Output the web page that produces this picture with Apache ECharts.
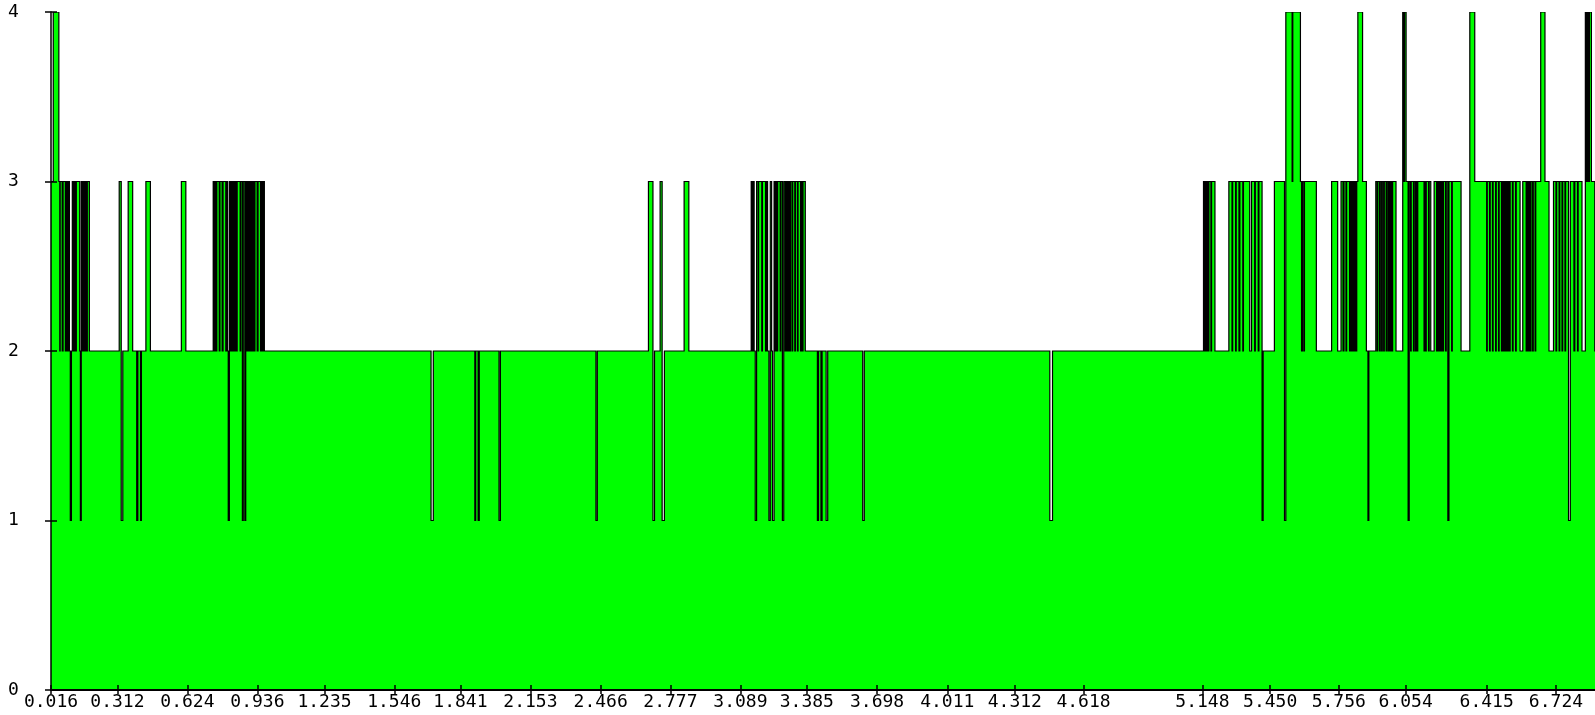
<!DOCTYPE html>
<html>
<head>
<meta charset="utf-8">
<script src="https://cdn.jsdelivr.net/npm/echarts/dist/echarts.min.js"></script>
<style>
  html, body { margin: 0; padding: 0; background: #fff; }
  #chart { width: 1595px; height: 715px; }
</style>
</head>
<body>
<div id="chart"></div>
<script>
// step positions (x) and the value held from there to the next position
var stepX = [
  0.016, 0.026, 0.051, 0.055, 0.057, 0.066, 0.070, 0.080, 0.084, 0.089,
  0.093, 0.098, 0.102, 0.107, 0.111, 0.115, 0.120, 0.124, 0.129, 0.144,
  0.147, 0.151, 0.156, 0.160, 0.164, 0.169, 0.173, 0.178, 0.187, 0.320,
  0.329, 0.336, 0.360, 0.380, 0.398, 0.403, 0.415, 0.419, 0.439, 0.459,
  0.597, 0.617, 0.739, 0.744, 0.748, 0.753, 0.755, 0.766, 0.769, 0.779,
  0.783, 0.795, 0.798, 0.803, 0.806, 0.811, 0.815, 0.820, 0.824, 0.828,
  0.833, 0.837, 0.842, 0.846, 0.859, 0.862, 0.869, 0.873, 0.880, 0.884,
  0.889, 0.893, 0.898, 0.902, 0.906, 0.911, 0.915, 0.919, 0.922, 0.925,
  0.935, 0.939, 0.950, 0.953, 0.958, 0.962, 0.967, 1.710, 1.720, 1.905,
  1.909, 1.920, 1.925, 2.013, 2.019, 2.445, 2.451, 2.679, 2.699, 2.706,
  2.731, 2.740, 2.750, 2.838, 2.859, 3.137, 3.141, 3.146, 3.150, 3.155,
  3.161, 3.168, 3.170, 3.184, 3.187, 3.201, 3.205, 3.210, 3.216, 3.222,
  3.228, 3.232, 3.239, 3.244, 3.248, 3.252, 3.255, 3.266, 3.269, 3.276,
  3.282, 3.288, 3.292, 3.296, 3.299, 3.303, 3.306, 3.310, 3.313, 3.320,
  3.322, 3.331, 3.334, 3.343, 3.346, 3.357, 3.361, 3.364, 3.368, 3.378,
  3.432, 3.437, 3.448, 3.453, 3.471, 3.478, 3.634, 3.641, 4.468, 4.480,
  5.153, 5.158, 5.161, 5.166, 5.169, 5.173, 5.177, 5.186, 5.189, 5.204,
  5.266, 5.280, 5.283, 5.296, 5.299, 5.311, 5.315, 5.328, 5.331, 5.359,
  5.367, 5.381, 5.384, 5.397, 5.400, 5.414, 5.419, 5.469, 5.514, 5.520,
  5.548, 5.551, 5.585, 5.590, 5.594, 5.600, 5.603, 5.656, 5.724, 5.751,
  5.766, 5.775, 5.779, 5.788, 5.791, 5.804, 5.807, 5.811, 5.814, 5.818,
  5.821, 5.825, 5.828, 5.832, 5.836, 5.841, 5.862, 5.879, 5.886, 5.890,
  5.921, 5.927, 5.930, 5.938, 5.941, 5.947, 5.950, 5.956, 5.959, 5.967,
  5.970, 5.976, 5.979, 5.984, 5.988, 5.993, 5.996, 6.011, 6.041, 6.046,
  6.049, 6.056, 6.065, 6.070, 6.076, 6.079, 6.089, 6.092, 6.098, 6.101,
  6.105, 6.108, 6.136, 6.139, 6.143, 6.146, 6.156, 6.159, 6.166, 6.181,
  6.192, 6.195, 6.198, 6.202, 6.205, 6.209, 6.213, 6.216, 6.220, 6.223,
  6.232, 6.235, 6.242, 6.247, 6.259, 6.262, 6.301, 6.340, 6.362, 6.415,
  6.418, 6.428, 6.431, 6.441, 6.444, 6.455, 6.458, 6.468, 6.471, 6.481,
  6.484, 6.488, 6.492, 6.495, 6.499, 6.502, 6.506, 6.509, 6.513, 6.517,
  6.520, 6.530, 6.533, 6.544, 6.547, 6.564, 6.576, 6.591, 6.594, 6.599,
  6.603, 6.608, 6.612, 6.619, 6.623, 6.631, 6.634, 6.656, 6.675, 6.693,
  6.713, 6.724, 6.727, 6.738, 6.741, 6.751, 6.754, 6.764, 6.767, 6.780,
  6.788, 6.804, 6.808, 6.820, 6.823, 6.840, 6.855, 6.860, 6.864, 6.869,
  6.873, 6.882, 6.897, 6.898
];
var stepY = [
  3, 4, 3, 2, 3, 2, 3, 2, 3, 2,
  3, 2, 1, 2, 3, 2, 3, 2, 3, 2,
  1, 3, 2, 3, 2, 3, 2, 3, 2, 3,
  1, 2, 3, 2, 1, 2, 1, 2, 3, 2,
  3, 2, 3, 2, 3, 2, 3, 2, 3, 2,
  3, 2, 3, 2, 1, 3, 2, 3, 2, 3,
  2, 3, 2, 3, 2, 3, 1, 3, 1, 3,
  2, 3, 2, 3, 2, 3, 2, 3, 2, 3,
  2, 3, 2, 3, 2, 3, 2, 1, 2, 1,
  2, 1, 2, 1, 2, 1, 2, 3, 1, 2,
  3, 1, 2, 3, 2, 3, 2, 3, 2, 1,
  3, 2, 3, 2, 3, 2, 3, 2, 1, 3,
  2, 1, 3, 2, 3, 2, 3, 2, 3, 1,
  3, 2, 3, 2, 3, 2, 3, 2, 3, 2,
  3, 2, 3, 2, 3, 2, 3, 2, 3, 2,
  1, 2, 1, 2, 1, 2, 1, 2, 1, 2,
  3, 2, 3, 2, 3, 2, 3, 2, 3, 2,
  3, 2, 3, 2, 3, 2, 3, 2, 3, 2,
  3, 2, 3, 2, 3, 1, 2, 3, 1, 4,
  3, 4, 3, 2, 3, 2, 3, 2, 3, 2,
  3, 2, 3, 2, 3, 2, 3, 2, 3, 2,
  3, 2, 3, 2, 3, 4, 3, 2, 1, 2,
  3, 2, 3, 2, 3, 2, 3, 2, 3, 2,
  3, 2, 3, 2, 3, 2, 3, 2, 4, 3,
  4, 3, 1, 3, 2, 3, 2, 3, 2, 3,
  2, 3, 2, 3, 2, 3, 2, 3, 2, 3,
  2, 3, 2, 3, 2, 3, 2, 3, 2, 3,
  2, 3, 1, 3, 2, 3, 2, 4, 3, 2,
  3, 2, 3, 2, 3, 2, 3, 2, 3, 2,
  3, 2, 3, 2, 3, 2, 3, 2, 3, 2,
  3, 2, 3, 2, 3, 2, 3, 2, 3, 2,
  3, 2, 3, 2, 3, 2, 3, 4, 3, 2,
  3, 2, 3, 2, 3, 2, 3, 2, 3, 1,
  3, 2, 3, 2, 3, 2, 4, 3, 4, 3,
  4, 3, 2, 2
];
var tickVals = [0.016, 0.312, 0.624, 0.936, 1.235, 1.546, 1.841, 2.153, 2.466, 2.777,
  3.089, 3.385, 3.698, 4.011, 4.312, 4.618, 5.148, 5.450, 5.756, 6.054, 6.415, 6.724];
var xMin = 0.016, xMax = 6.898;
var yMin = 0, yMax = 4;

var labelFont = {fontFamily: 'DejaVu Sans Mono', fontSize: 18, color: '#000'};

// the built-in line series drops segments shorter than 2px, which loses the
// dense spikes, so the step outline and its fill are drawn as one custom shape
function renderSteps(params, api) {
    if (params.dataIndex !== 0) return null;
    var n = stepX.length;
    var outline = [];
    for (var i = 0; i < n; i++) {
        if (i > 0) outline.push(api.coord([api.value(0, i), api.value(1, i - 1)]));
        outline.push(api.coord([api.value(0, i), api.value(1, i)]));
    }
    var area = [api.coord([api.value(0, 0), 0])].concat(outline);
    area.push(api.coord([api.value(0, n - 1), 0]));
    return {
        type: 'group',
        children: [{
            type: 'polygon',
            shape: {points: area},
            style: {fill: '#00ff00', stroke: null},
            z2: 1
        }, {
            type: 'polyline',
            shape: {points: outline},
            style: {fill: null, stroke: '#000', lineWidth: 1.2},
            z2: 2
        }]
    };
}

var chart = echarts.init(document.getElementById('chart'));
chart.setOption({
    animation: false,
    backgroundColor: '#fff',
    grid: {left: 51, right: 0, top: 12, bottom: 25},
    xAxis: [{
        type: 'value', min: xMin, max: xMax, z: 10,
        axisLine: {lineStyle: {color: '#000', width: 2}},
        axisTick: {inside: true, length: 5, customValues: tickVals, lineStyle: {color: '#000', width: 1.5}},
        axisLabel: Object.assign({
            margin: 3, customValues: tickVals,
            formatter: function (v) { return v.toFixed(3); }
        }, labelFont),
        splitLine: {show: false}
    }, {
        // ticks poking below the axis line
        type: 'value', min: xMin, max: xMax, position: 'bottom', z: 10,
        axisLine: {show: false},
        axisTick: {length: 4, customValues: tickVals, lineStyle: {color: '#000', width: 1.5}},
        axisLabel: {show: false},
        splitLine: {show: false}
    }],
    yAxis: [{
        type: 'value', min: yMin, max: yMax, interval: 1, z: 10,
        axisLine: {show: true, lineStyle: {color: '#000', width: 1.5}},
        axisTick: {show: true, length: 6, lineStyle: {color: '#000', width: 1.5}},
        axisLabel: Object.assign({margin: 43, align: 'left'}, labelFont),
        splitLine: {show: false}
    }, {
        type: 'value', min: yMin, max: yMax, interval: 1, position: 'left', z: 10,
        axisLine: {show: false},
        axisTick: {show: true, inside: true, length: 6, lineStyle: {color: '#000', width: 1.5}},
        axisLabel: {show: false},
        splitLine: {show: false}
    }],
    series: [{
        type: 'custom',
        xAxisIndex: 0,
        yAxisIndex: 0,
        clip: true,
        data: stepX.map(function (x, i) { return [x, stepY[i]]; }),
        renderItem: renderSteps,
        emphasis: {disabled: true}
    }]
});
</script>
</body>
</html>
